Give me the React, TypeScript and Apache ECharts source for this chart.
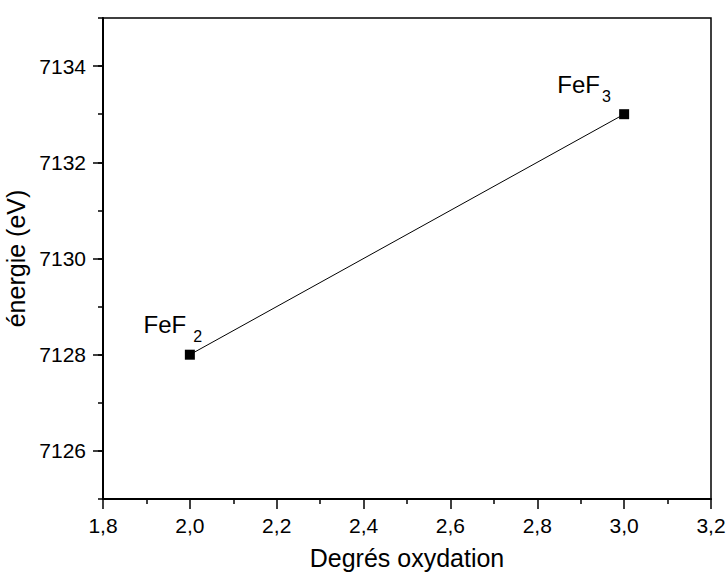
import React, { useEffect, useRef } from "react";
import * as echarts from "echarts";

const oxidationStates = [2, 3];
const energies = [7128, 7133];
const compoundBase = ["FeF", "FeF"];
const compoundSub = ["2", "3"];
const yMajorTicks = [7126, 7128, 7130, 7132, 7134];

const FONT = "'Liberation Sans', Arial, sans-serif";

export default function App() {
  const ref = useRef<HTMLDivElement>(null);
  useEffect(() => {
    if (!ref.current) return;
    const chart = echarts.init(ref.current, null, { renderer: "svg" });
    const labelOffsets = [
      [-17, -8],
      [-40, -8],
    ];
    const subPad = [7, 2];
    const data = oxidationStates.map((x, i) => ({
      value: [x, energies[i]],
      label: {
        show: true,
        position: "top",
        distance: 5,
        offset: labelOffsets[i],
        formatter: `{a|${compoundBase[i]}}{b|${compoundSub[i]}}`,
        rich: {
          a: { fontSize: 24, lineHeight: 24, verticalAlign: "top", color: "#000", fontFamily: FONT },
          b: {
            fontSize: 16,
            lineHeight: 16,
            verticalAlign: "top",
            padding: [16, 0, 0, subPad[i]],
            color: "#000",
            fontFamily: FONT,
          },
        },
      },
    }));
    chart.setOption({
      animation: false,
      backgroundColor: "#fff",
      textStyle: { fontFamily: FONT, color: "#000" },
      grid: {
        left: 103,
        right: 16,
        top: 18,
        bottom: 73,
        show: true,
        borderColor: "#000",
        borderWidth: 1.5,
        containLabel: false,
        outerBoundsMode: "none",
      },
      xAxis: {
        type: "value",
        min: 1.8,
        max: 3.2,
        interval: 0.2,
        name: "Degrés oxydation",
        nameLocation: "middle",
        nameGap: 46,
        nameTextStyle: { fontSize: 25, color: "#000", fontFamily: FONT },
        axisLine: { show: true, lineStyle: { color: "#000", width: 2 } },
        axisTick: { show: true, length: 10, lineStyle: { color: "#000", width: 1.5 } },
        minorTick: { show: true, splitNumber: 2, length: 5, lineStyle: { color: "#000", width: 1.5 } },
        splitLine: { show: false },
        axisLabel: {
          fontSize: 21,
          color: "#000",
          fontFamily: FONT,
          margin: 16,
          formatter: (v: number) => v.toFixed(1).replace(".", ","),
        },
      },
      yAxis: [
        {
          type: "value",
          min: 7125,
          max: 7135,
          position: "left",
          name: "énergie (eV)",
          nameLocation: "middle",
          nameGap: 62,
          nameTextStyle: { fontSize: 25, color: "#000", fontFamily: FONT },
          axisLine: { show: true, lineStyle: { color: "#000", width: 2 } },
          axisTick: {
            show: true,
            length: 10,
            customValues: yMajorTicks,
            lineStyle: { color: "#000", width: 1.5 },
          },
          axisLabel: {
            fontSize: 21,
            color: "#000",
            fontFamily: FONT,
            margin: 17,
            customValues: yMajorTicks,
            formatter: (v: number) => String(Math.round(v)),
          },
          splitLine: { show: false },
        },
        {
          type: "value",
          min: 7125,
          max: 7135,
          interval: 1,
          position: "left",
          offset: 0,
          axisLine: { show: false },
          axisTick: { show: true, length: 5, lineStyle: { color: "#000", width: 1.5 } },
          axisLabel: { show: false },
          splitLine: { show: false },
        },
      ],
      series: [
        {
          type: "line",
          xAxisIndex: 0,
          yAxisIndex: 0,
          data,
          symbol: "rect",
          symbolSize: 10,
          lineStyle: { color: "#000", width: 1 },
          itemStyle: { color: "#000" },
        },
      ],
    });
    return () => chart.dispose();
  }, []);
  return (
    <div
      ref={ref}
      style={{ position: "fixed", left: 0, top: 0, width: 727, height: 572, background: "#fff" }}
    />
  );
}
